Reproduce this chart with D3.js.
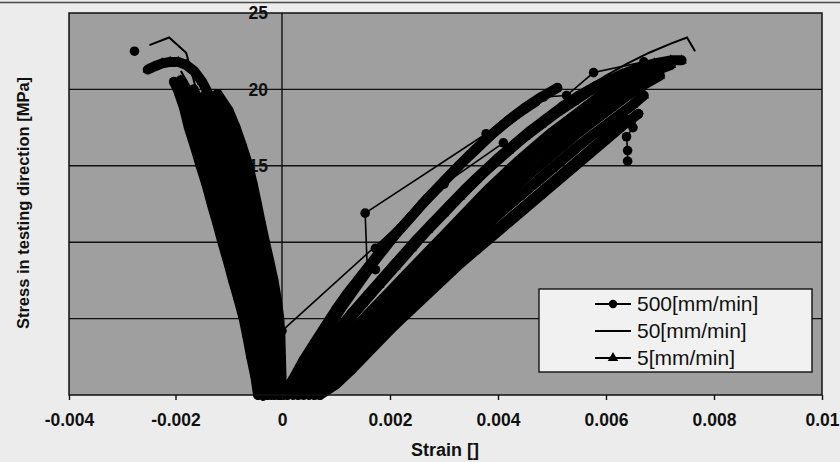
<!DOCTYPE html>
<html>
<head>
<meta charset="utf-8">
<script src="https://cdn.jsdelivr.net/npm/d3@7"></script>
<style>
  html, body { margin: 0; padding: 0; background: #ececec; }
  svg { display: block; font-family: "Liberation Sans", Arial, Helvetica, sans-serif; }
</style>
</head>
<body>
<svg id="chart" width="840" height="462"></svg>
<script>
// axis ticks
const xTicks = [-0.004, -0.002, 0, 0.002, 0.004, 0.006, 0.008, 0.01];
const xTickLabels = ['-0.004', '-0.002', '0', '0.002', '0.004', '0.006', '0.008', '0.01'];
const yTicks = [0, 5, 10, 15, 20, 25];
const legendLabels = ['500[mm/min]', '50[mm/min]', '5[mm/min]'];

// 500 mm/min, tension side [strain, stress]
const t500a = [[0, 0], [0.0002, 1.0], [0.0004, 2.3], [0.0006, 3.4], [0.0008, 4.5], [0.0010, 5.6], [0.0012, 6.6], [0.0014, 7.5], [0.0016, 8.4], [0.0018, 9.3], [0.0020, 10.1], [0.0023, 11.3], [0.0026, 12.5], [0.0029, 13.6], [0.0032, 14.7], [0.0035, 15.8], [0.0038, 16.8], [0.0041, 17.7], [0.0044, 18.5], [0.0047, 19.2]];
const t500aTail = [[0.0047, 19.2], [0.00484, 19.5], [0.00527, 19.6], [0.00577, 21.1], [0.0067, 21.8]];
const t500b = [[0.0006, 0], [0.0009, 0.5], [0.0012, 1.5], [0.0015, 2.6], [0.0018, 3.6], [0.0021, 4.6], [0.0024, 5.6], [0.0027, 6.6], [0.0030, 7.6], [0.0033, 8.6], [0.0036, 9.5], [0.0039, 10.4], [0.0042, 11.3], [0.0045, 12.2], [0.0048, 13.1], [0.0051, 14.0], [0.0054, 14.9], [0.0057, 15.8], [0.0060, 16.7], [0.0063, 17.6], [0.0066, 18.4]];
const t500bTail = [[0.0066, 18.4], [0.0065, 17.5], [0.00638, 16.9], [0.0064, 16.0], [0.0064, 15.3]];
const t500c = [[0.0001, 0], [0.0004, 1.4], [0.0007, 2.8], [0.0010, 4.1], [0.0013, 5.4], [0.0016, 6.6], [0.0019, 7.8], [0.0022, 9.0], [0.0025, 10.2], [0.0028, 11.3], [0.0031, 12.4], [0.0034, 13.5], [0.0037, 14.5], [0.0040, 15.5], [0.0043, 16.4], [0.0046, 17.3], [0.0049, 18.1], [0.0052, 18.9], [0.0055, 19.6], [0.0058, 20.2], [0.0061, 20.7]];
const t500cTail = [[0.0061, 20.7], [0.00666, 20.1], [0.0065, 19.0]];
const t500f = [[0, 0], [0.0003, 1.3], [0.0005, 2.4], [0.0007, 3.5], [0.0009, 4.6], [0.0011, 5.7], [0.0013, 6.7], [0.0015, 7.7], [0.0017, 8.7], [0.0019, 9.6], [0.0021, 10.5], [0.0024, 11.7], [0.0027, 12.9], [0.0030, 14.0], [0.0033, 15.1], [0.0036, 16.1], [0.0039, 17.1], [0.0042, 18.0], [0.0045, 18.8], [0.0048, 19.5], [0.0051, 20.1]];
const t500g = [[0.0007, 0], [0.0010, 0.7], [0.0013, 1.7], [0.0016, 2.8], [0.0019, 3.9], [0.0022, 5.0], [0.0025, 6.0], [0.0028, 7.0], [0.0031, 8.0], [0.0034, 9.0], [0.0037, 10.0], [0.0040, 10.9], [0.0043, 11.8], [0.0046, 12.7], [0.0049, 13.6], [0.0052, 14.5], [0.0055, 15.4], [0.0058, 16.3], [0.0061, 17.2], [0.0064, 18.0]];
const t500d = [[0, 0.3], [0, 4.2], [0.0030, 13.8], [0.0041, 16.5]];
const t500e = [[0.00158, 8.2], [0.00154, 11.9], [0.00378, 17.1], [0.00173, 9.6], [0.00173, 8.2]];

// 500 mm/min, compression side
const c500a = [[-0.00045, 0], [-0.00050, 1.2], [-0.00058, 2.5], [-0.00065, 3.8], [-0.00072, 5], [-0.00082, 6.3], [-0.00092, 7.5], [-0.00102, 8.8], [-0.00112, 10], [-0.00122, 11.3], [-0.00132, 12.5], [-0.00142, 13.8], [-0.00153, 15], [-0.00164, 16.3], [-0.00175, 17.5], [-0.00184, 18.8], [-0.00196, 20], [-0.00203, 20.5]];
const c500b = [[-0.00027, 0], [-0.00031, 1.2], [-0.00036, 2.5], [-0.00040, 3.8], [-0.00045, 5], [-0.00053, 6.3], [-0.00062, 7.5], [-0.00071, 8.8], [-0.00080, 10], [-0.00089, 11.3], [-0.00098, 12.5], [-0.00107, 13.8], [-0.00117, 15], [-0.00128, 16.3], [-0.00140, 17.5], [-0.00152, 18.8], [-0.00166, 20]];
const c500c = [[0, 0], [-0.00001, 1.2], [-0.00002, 2.5], [-0.00003, 3.8], [-0.00005, 5], [-0.00010, 6.3], [-0.00016, 7.5], [-0.00024, 8.8], [-0.00032, 10], [-0.00040, 11.3], [-0.00047, 12.5], [-0.00055, 13.8], [-0.00063, 15], [-0.00075, 16.3], [-0.00087, 17.5], [-0.00100, 18.6], [-0.00121, 19.7]];
const c500Stray = [[-0.00277, 22.5]];

// 50 mm/min (line only)
const t50a = [[0, 0], [0.0005, 2.3], [0.0010, 4.4], [0.0015, 6.5], [0.0020, 8.6], [0.0025, 10.5], [0.0030, 12.4], [0.0035, 14.2], [0.0040, 15.8], [0.0045, 17.3], [0.0050, 18.6], [0.0055, 19.8], [0.0060, 20.9], [0.0064, 21.7], [0.0068, 22.4], [0.0072, 23.0], [0.0075, 23.4], [0.00765, 22.5]];
const t50b = [[0.0002, 0], [0.0008, 2.6], [0.0014, 5.2], [0.0020, 7.7], [0.0026, 10.1], [0.0032, 12.3], [0.0038, 14.4], [0.0044, 16.3], [0.0050, 18.1], [0.0056, 19.6], [0.0062, 20.9], [0.0068, 21.7]];
const t50c = [[0.0006, 0], [0.0012, 2.0], [0.0018, 4.2], [0.0024, 6.4], [0.0030, 8.6], [0.0036, 10.7], [0.0042, 12.7], [0.0048, 14.6], [0.0054, 16.4], [0.0060, 18.0], [0.0065, 19.3]];
const c50a = [[-0.0001, 0], [-0.0003, 3], [-0.0006, 7], [-0.0009, 11], [-0.0012, 15], [-0.0015, 18.6], [-0.0018, 22.4], [-0.00212, 23.4], [-0.00249, 22.9]];
const c50b = [[-0.0002, 0], [-0.0004, 4], [-0.0007, 8], [-0.0010, 12], [-0.0013, 16], [-0.0016, 19.4], [-0.0019, 21.2]];

// 5 mm/min, tension side
const t5a = [[0, 0], [0.0003, 1.2], [0.0006, 2.4], [0.0009, 3.6], [0.0012, 4.8], [0.0015, 6.0], [0.0018, 7.2], [0.0021, 8.4], [0.0024, 9.6], [0.0027, 10.8], [0.0030, 11.9], [0.0033, 13.0], [0.0036, 14.1], [0.0039, 15.1], [0.0042, 16.0], [0.0045, 16.9], [0.0048, 17.7], [0.0051, 18.5], [0.0054, 19.2], [0.0057, 19.9], [0.0060, 20.5], [0.0063, 21.0], [0.0066, 21.4], [0.0069, 21.7], [0.0072, 21.9], [0.0074, 21.9]];
const t5b = [[0.0003, 0], [0.0006, 1.0], [0.0009, 2.1], [0.0012, 3.2], [0.0015, 4.3], [0.0018, 5.4], [0.0021, 6.5], [0.0024, 7.6], [0.0027, 8.7], [0.0030, 9.8], [0.0033, 10.9], [0.0036, 12.0], [0.0039, 13.0], [0.0042, 14.0], [0.0045, 15.0], [0.0048, 15.9], [0.0051, 16.8], [0.0054, 17.7], [0.0057, 18.5], [0.0060, 19.3], [0.0063, 20.0], [0.0066, 20.6], [0.0069, 21.2], [0.0072, 21.6]];
const t5c = [[0.0005, 0], [0.0008, 0.8], [0.0011, 1.8], [0.0014, 2.9], [0.0017, 4.0], [0.0020, 5.0], [0.0023, 6.1], [0.0026, 7.1], [0.0029, 8.1], [0.0032, 9.1], [0.0035, 10.1], [0.0038, 11.1], [0.0041, 12.1], [0.0044, 13.0], [0.0047, 13.9], [0.0050, 14.8], [0.0053, 15.7], [0.0056, 16.6], [0.0059, 17.4], [0.0062, 18.2], [0.0065, 19.0], [0.0067, 19.6]];
const t5d = [[0.0002, 0], [0.0005, 1.1], [0.0008, 2.3], [0.0011, 3.5], [0.0014, 4.6], [0.0017, 5.7], [0.0020, 6.8], [0.0023, 7.9], [0.0026, 9.0], [0.0029, 10.1], [0.0032, 11.2], [0.0035, 12.3], [0.0038, 13.4], [0.0041, 14.4], [0.0044, 15.4], [0.0047, 16.3], [0.0050, 17.2], [0.0053, 18.0], [0.0056, 18.8], [0.0059, 19.6], [0.0062, 20.3], [0.0065, 20.9], [0.0068, 21.4], [0.0071, 21.7]];
const t5e = [[0.0004, 0], [0.0007, 0.9], [0.0010, 2.0], [0.0013, 3.0], [0.0016, 4.1], [0.0019, 5.2], [0.0022, 6.3], [0.0025, 7.3], [0.0028, 8.4], [0.0031, 9.4], [0.0034, 10.5], [0.0037, 11.5], [0.0040, 12.5], [0.0043, 13.5], [0.0046, 14.5], [0.0049, 15.4], [0.0052, 16.3], [0.0055, 17.2], [0.0058, 18.0], [0.0061, 18.8], [0.0064, 19.6], [0.0067, 20.3], [0.0070, 20.9]];

// 5 mm/min, compression side
const c5a = [[-0.00014, 0], [-0.00016, 1.2], [-0.00019, 2.5], [-0.00022, 3.8], [-0.00025, 5], [-0.00032, 6.3], [-0.00040, 7.5], [-0.00048, 8.8], [-0.00056, 10], [-0.00064, 11.3], [-0.00072, 12.5], [-0.00081, 13.8], [-0.00090, 15], [-0.00102, 16.3], [-0.00114, 17.5], [-0.00125, 18.6], [-0.00135, 19.5], [-0.00150, 20.5], [-0.00165, 21.2], [-0.00180, 21.6], [-0.00195, 21.8], [-0.00210, 21.8], [-0.00225, 21.7], [-0.00240, 21.5], [-0.00252, 21.3]];
const c5b = [[-0.00036, 0], [-0.00041, 1.2], [-0.00047, 2.5], [-0.00053, 3.8], [-0.00059, 5], [-0.00068, 6.3], [-0.00077, 7.5], [-0.00086, 8.8], [-0.00096, 10], [-0.00105, 11.3], [-0.00115, 12.5], [-0.00125, 13.8], [-0.00135, 15], [-0.00146, 16.3], [-0.00157, 17.5], [-0.00170, 18.8], [-0.00183, 20], [-0.00190, 20.6]];
const c5c = [[-0.00007, 0], [-0.00008, 1.2], [-0.00010, 2.5], [-0.00012, 3.8], [-0.00015, 5], [-0.00021, 6.3], [-0.00027, 7.5], [-0.00035, 8.8], [-0.00044, 10], [-0.00052, 11.3], [-0.00060, 12.5], [-0.00068, 13.8], [-0.00077, 15], [-0.00088, 16.3], [-0.00100, 17.5], [-0.00110, 18.6], [-0.00120, 19.5]];
const c5d = [[-0.00020, 0], [-0.00023, 1.2], [-0.00027, 2.5], [-0.00031, 3.8], [-0.00035, 5], [-0.00042, 6.3], [-0.00050, 7.5], [-0.00059, 8.8], [-0.00068, 10], [-0.00076, 11.3], [-0.00085, 12.5], [-0.00094, 13.8], [-0.00104, 15], [-0.00115, 16.3], [-0.00127, 17.5], [-0.00139, 18.6], [-0.00150, 19.5]];

const dense500 = [t500a, t500b, t500c, t500f, t500g, c500a, c500b, c500c];
const sparse500 = [t500aTail, t500bTail, t500cTail, t500d, t500e, c500Stray];
const lines50 = [t50a, t50b, t50c, c50a, c50b];
const dense5 = [t5a, t5b, t5c, t5d, t5e, c5a, c5b, c5c, c5d];

const svg = d3.select('#chart');
const W = 840, H = 462;
const plot = { left: 69, right: 822, top: 13, bottom: 395 };

// scanned axis is slightly uneven, so pin 0 where it sits
const x = d3.scaleLinear().domain([-0.004, 0, 0.01]).range([plot.left, 282, plot.right]);
const y = d3.scaleLinear().domain([0, 25]).range([plot.bottom, plot.top]);

svg.append('rect').attr('width', W).attr('height', H).attr('fill', '#ececec');
svg.append('line')
  .attr('x1', 0).attr('x2', W).attr('y1', 2.5).attr('y2', 2.5)
  .attr('stroke', '#4a4a4a').attr('stroke-width', 1.5);

// plot area
svg.append('rect')
  .attr('x', plot.left).attr('y', plot.top)
  .attr('width', plot.right - plot.left).attr('height', plot.bottom - plot.top)
  .attr('fill', '#9f9f9f');

// gridlines
svg.append('g')
  .selectAll('line')
  .data(yTicks.filter(d => d > 0 && d < 25))
  .join('line')
  .attr('x1', plot.left).attr('x2', plot.right)
  .attr('y1', d => y(d)).attr('y2', d => y(d))
  .attr('stroke', '#111').attr('stroke-width', 1.4);

// y axis sits on strain = 0, labels are painted under the data
svg.append('line')
  .attr('x1', x(0)).attr('x2', x(0))
  .attr('y1', plot.top).attr('y2', plot.bottom)
  .attr('stroke', '#111').attr('stroke-width', 1.4);

svg.append('g')
  .selectAll('text')
  .data(yTicks)
  .join('text')
  .attr('x', x(0) - 14)
  .attr('y', d => y(d))
  .attr('dy', '0.35em')
  .attr('text-anchor', 'end')
  .style('font-size', '17.5px')
  .style('font-weight', 'bold')
  .attr('fill', '#111')
  .text(d => d);

// data
const line = d3.line().x(d => x(d[0])).y(d => y(d[1]));
const data = svg.append('g');
const tri = d3.symbol().type(d3.symbolTriangle).size(48);

// the recorded curves are so dense that their markers merge into a ribbon
function drawDense(curves, marker) {
  curves.forEach(pts => {
    data.append('path')
      .attr('d', line(pts))
      .attr('fill', 'none')
      .attr('stroke', '#000')
      .attr('stroke-width', 10)
      .attr('stroke-linejoin', 'round')
      .attr('stroke-linecap', 'round');
    drawMarkers(pts, marker);
  });
}

function drawMarkers(pts, marker) {
  if (marker === 'circle') {
    data.append('g').selectAll('circle')
      .data(pts)
      .join('circle')
      .attr('cx', d => x(d[0])).attr('cy', d => y(d[1]))
      .attr('r', 4.8).attr('fill', '#000');
  } else {
    data.append('g').selectAll('path')
      .data(pts)
      .join('path')
      .attr('d', tri)
      .attr('transform', d => `translate(${x(d[0])},${y(d[1])})`)
      .attr('fill', '#000');
  }
}

drawDense(dense5, 'triangle');
drawDense(dense500, 'circle');

sparse500.forEach(pts => {
  data.append('path')
    .attr('d', line(pts))
    .attr('fill', 'none')
    .attr('stroke', '#000')
    .attr('stroke-width', 1.6);
  drawMarkers(pts, 'circle');
});

lines50.forEach(pts => {
  data.append('path')
    .attr('d', line(pts))
    .attr('fill', 'none')
    .attr('stroke', '#000')
    .attr('stroke-width', 2);
});

// plot border
svg.append('rect')
  .attr('x', plot.left).attr('y', plot.top)
  .attr('width', plot.right - plot.left).attr('height', plot.bottom - plot.top)
  .attr('fill', 'none').attr('stroke', '#111').attr('stroke-width', 1.5);

// x axis
const xAxis = svg.append('g')
  .attr('transform', `translate(0,${plot.bottom})`)
  .call(d3.axisBottom(x).tickValues(xTicks).tickSize(5).tickPadding(14)
    .tickFormat((d, i) => xTickLabels[i]));
xAxis.select('.domain').remove();
xAxis.selectAll('line').attr('stroke', '#111').attr('stroke-width', 1.4);
xAxis.selectAll('text')
  .style('font-family', '"Liberation Sans", Arial, sans-serif')
  .style('font-size', '17.5px')
  .style('font-weight', 'bold')
  .attr('fill', '#111');

// axis titles
svg.append('text')
  .attr('x', 445).attr('y', 456)
  .attr('text-anchor', 'middle')
  .style('font-size', '18px').style('font-weight', 'bold')
  .attr('fill', '#111')
  .text('Strain []');

svg.append('text')
  .attr('transform', 'translate(29,203) rotate(-90)')
  .attr('text-anchor', 'middle')
  .style('font-size', '16.5px').style('font-weight', 'bold')
  .attr('fill', '#111')
  .text('Stress in testing direction [MPa]');

// legend
const legend = svg.append('g');
legend.append('rect')
  .attr('x', 539).attr('y', 289).attr('width', 273).attr('height', 83)
  .attr('fill', '#f1f1f1').attr('stroke', '#111').attr('stroke-width', 1.4);

const rowY = [304, 331, 358];
legendLabels.forEach((label, i) => {
  const row = legend.append('g').attr('transform', `translate(0,${rowY[i]})`);
  row.append('line')
    .attr('x1', 595).attr('x2', 631).attr('y1', 0).attr('y2', 0)
    .attr('stroke', '#000').attr('stroke-width', 2);
  if (i === 0) {
    row.append('circle').attr('cx', 613).attr('cy', 0).attr('r', 4.2).attr('fill', '#000');
  } else if (i === 2) {
    row.append('path').attr('d', tri).attr('transform', 'translate(613,0)').attr('fill', '#000');
  }
  row.append('text')
    .attr('x', 637).attr('dy', '0.35em')
    .style('font-size', '21px')
    .attr('fill', '#111')
    .text(label);
});
</script>
</body>
</html>
